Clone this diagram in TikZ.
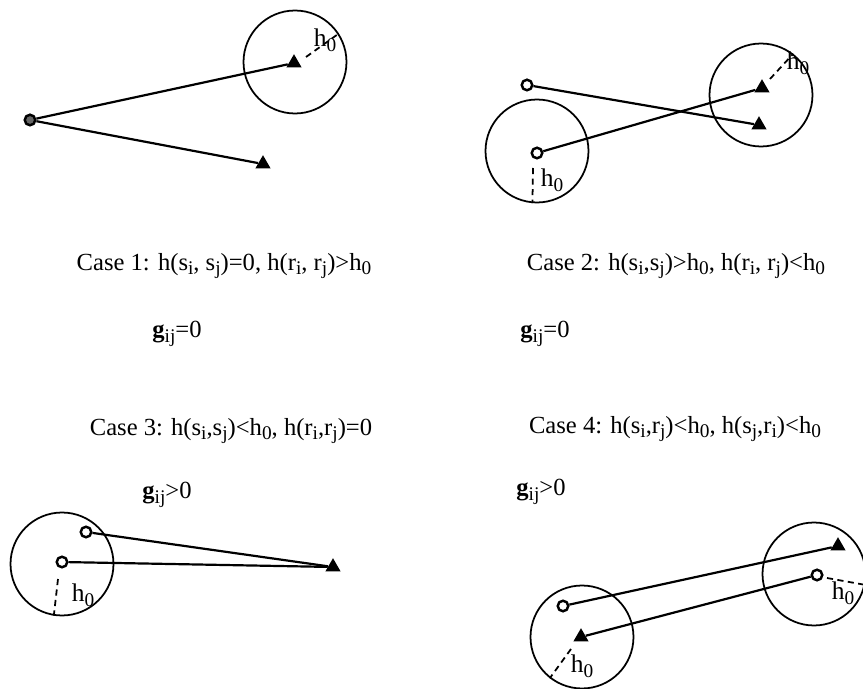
\documentclass[tikz,border=0pt]{standalone}
\usepackage{fontspec}
\setmainfont{Liberation Serif}
\usepackage{tikz}
\usetikzlibrary{shapes.geometric}

\newcommand{\lo}[1]{\raisebox{-0.4ex}{\fontsize{11}{12}\selectfont #1}}

\begin{document}
\begin{tikzpicture}[x=0.02cm, y=-0.02cm,
    src/.style={draw, circle, line width=1.4pt, inner sep=0pt, minimum size=6pt},
    rcv/.style={regular polygon, regular polygon sides=3, fill=black, inner sep=0pt, minimum size=10pt},
    zone/.style={draw, circle, line width=1pt, inner sep=0pt, minimum size=2.06cm},
    link/.style={line width=1.25pt},
    rad/.style={dashed, line width=1pt, dash pattern=on 3.5pt off 2.5pt},
    casetext/.style={font=\fontsize{14}{16}\selectfont, inner sep=0pt},
    lab/.style={font=\fontsize{14.5}{16}\selectfont, inner sep=0pt}
]
    \useasboundingbox (0,0) rectangle (863,689);

    % Case 1
    \node[src, fill=black!60] (s1a) at (30,120) {};
    \node[rcv] (r1a) at (294,63) {};
    \node[rcv] (r1b) at (263,164) {};
    \node[zone] (z1) at (295,62) {};
    \draw[link] (s1a) -- (r1a);
    \draw[link] (s1a) -- (r1b);
    \draw[rad] (r1a) ++(12,-6) coordinate (h1) -- (z1.33);
    \node[lab] (l1) at (325,40) {h\lo{0}};

    % Case 2
    \node[src] (s2a) at (527,85) {};
    \node[src] (s2b) at (537,153) {};
    \node[rcv] (r2a) at (762,88) {};
    \node[rcv] (r2b) at (759,125) {};
    \node[zone] (z2a) at (537,151) {};
    \node[zone] (z2b) at (761,95) {};
    \draw[link] (s2a) -- (r2b);
    \draw[link] (s2b) -- (r2a);
    \draw[rad] (r2a) ++(8,-9) coordinate (h2a) -- (z2b.52);
    \draw[rad] (s2b) ++(-4,15) coordinate (h2b) -- (z2a.265);
    \node[lab] (l2a) at (798,63) {h\lo{0}};
    \node[lab] (l2b) at (552,180) {h\lo{0}};

    % Case 3
    \node[src] (s3a) at (86,532) {};
    \node[src] (s3b) at (62,562) {};
    \node[rcv] (r3) at (333,567) {};
    \node[zone] (z3) at (62,564) {};
    \draw[link] (s3a) -- (r3);
    \draw[link] (s3b) -- (r3);
    \draw[rad] (s3b) ++(-4,17) coordinate (h3) -- (z3.261);
    \node[lab] (l3) at (83,595) {h\lo{0}};

    % Case 4
    \node[src] (s4a) at (563,606) {};
    \node[src] (s4b) at (817,575) {};
    \node[rcv] (r4a) at (581,637) {};
    \node[rcv] (r4b) at (838,546) {};
    \node[zone] (z4a) at (582,637) {};
    \node[zone] (z4b) at (814,574) {};
    \draw[link] (s4a) -- (r4b);
    \draw[link] (s4b) -- (r4a);
    \draw[rad] (s4b) ++(10,3) coordinate (h4b) -- (z4b.-12);
    \draw[rad] (r4a) ++(-10,12) coordinate (h4a) -- (z4a.232);
    \node[lab] (l4b) at (843,593) {h\lo{0}};
    \node[lab] (l4a) at (582,666) {h\lo{0}};

    % captions
    \node[casetext] (c1) at (224,266) {Case 1: h(s\lo{i}, s\lo{j})=0, h(r\lo{i}, r\lo{j})>h\lo{0}};
    \node[casetext] (g1) at (177,334) {\textbf{g}\lo{ij}=0};
    \node[casetext] (c2) at (676,266) {Case 2: h(s\lo{i},s\lo{j})>h\lo{0}, h(r\lo{i}, r\lo{j})<h\lo{0}};
    \node[casetext] (g2) at (545,334) {\textbf{g}\lo{ij}=0};
    \node[casetext] (c3) at (231,431) {Case 3: h(s\lo{i},s\lo{j})<h\lo{0}, h(r\lo{i},r\lo{j})=0};
    \node[casetext] (g3) at (167,495) {\textbf{g}\lo{ij}>0};
    \node[casetext] (c4) at (675,429) {Case 4: h(s\lo{i},r\lo{j})<h\lo{0}, h(s\lo{j},r\lo{i})<h\lo{0}};
    \node[casetext] (g4) at (541,492) {\textbf{g}\lo{ij}>0};
\end{tikzpicture}
\end{document}
